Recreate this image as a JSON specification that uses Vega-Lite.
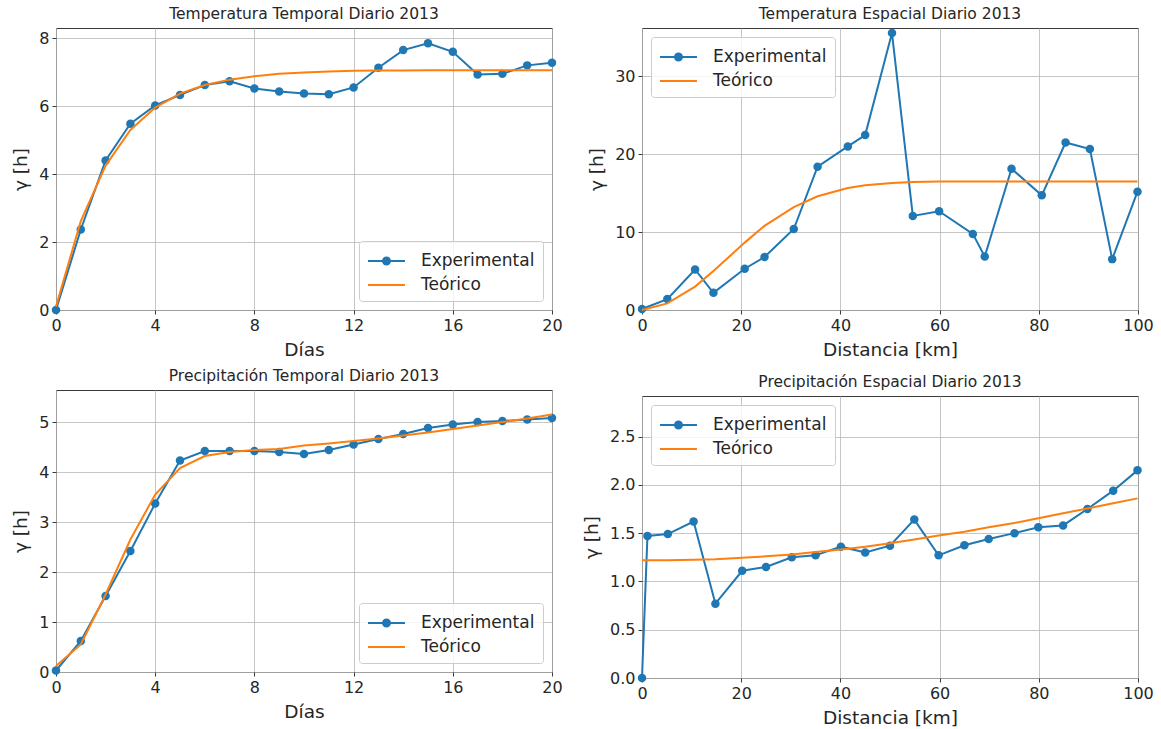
{
  "$schema": "https://vega.github.io/schema/vega-lite/v6.json",
  "padding": {"left": 11, "top": 6, "right": 4, "bottom": 4},
  "background": "white",
  "datasets": {
    "tt": [
      {"x": 0, "y": 0.0, "serie": "Experimental"},
      {"x": 1, "y": 2.37, "serie": "Experimental"},
      {"x": 2, "y": 4.4, "serie": "Experimental"},
      {"x": 3, "y": 5.48, "serie": "Experimental"},
      {"x": 4, "y": 6.02, "serie": "Experimental"},
      {"x": 5, "y": 6.33, "serie": "Experimental"},
      {"x": 6, "y": 6.62, "serie": "Experimental"},
      {"x": 7, "y": 6.73, "serie": "Experimental"},
      {"x": 8, "y": 6.52, "serie": "Experimental"},
      {"x": 9, "y": 6.43, "serie": "Experimental"},
      {"x": 10, "y": 6.37, "serie": "Experimental"},
      {"x": 11, "y": 6.35, "serie": "Experimental"},
      {"x": 12, "y": 6.55, "serie": "Experimental"},
      {"x": 13, "y": 7.13, "serie": "Experimental"},
      {"x": 14, "y": 7.65, "serie": "Experimental"},
      {"x": 15, "y": 7.85, "serie": "Experimental"},
      {"x": 16, "y": 7.6, "serie": "Experimental"},
      {"x": 17, "y": 6.93, "serie": "Experimental"},
      {"x": 18, "y": 6.95, "serie": "Experimental"},
      {"x": 19, "y": 7.2, "serie": "Experimental"},
      {"x": 20, "y": 7.28, "serie": "Experimental"},
      {"x": 0, "y": 0.1, "serie": "Teórico"},
      {"x": 1, "y": 2.62, "serie": "Teórico"},
      {"x": 2, "y": 4.25, "serie": "Teórico"},
      {"x": 3, "y": 5.3, "serie": "Teórico"},
      {"x": 4, "y": 5.96, "serie": "Teórico"},
      {"x": 5, "y": 6.37, "serie": "Teórico"},
      {"x": 6, "y": 6.62, "serie": "Teórico"},
      {"x": 7, "y": 6.78, "serie": "Teórico"},
      {"x": 8, "y": 6.88, "serie": "Teórico"},
      {"x": 9, "y": 6.95, "serie": "Teórico"},
      {"x": 10, "y": 6.99, "serie": "Teórico"},
      {"x": 11, "y": 7.02, "serie": "Teórico"},
      {"x": 12, "y": 7.04, "serie": "Teórico"},
      {"x": 13, "y": 7.05, "serie": "Teórico"},
      {"x": 14, "y": 7.05, "serie": "Teórico"},
      {"x": 15, "y": 7.06, "serie": "Teórico"},
      {"x": 16, "y": 7.06, "serie": "Teórico"},
      {"x": 17, "y": 7.06, "serie": "Teórico"},
      {"x": 18, "y": 7.06, "serie": "Teórico"},
      {"x": 19, "y": 7.06, "serie": "Teórico"},
      {"x": 20, "y": 7.06, "serie": "Teórico"}
    ],
    "te": [
      {"x": 0, "y": 0.13, "serie": "Experimental"},
      {"x": 5.1, "y": 1.4, "serie": "Experimental"},
      {"x": 10.7, "y": 5.2, "serie": "Experimental"},
      {"x": 14.4, "y": 2.2, "serie": "Experimental"},
      {"x": 20.7, "y": 5.3, "serie": "Experimental"},
      {"x": 24.7, "y": 6.8, "serie": "Experimental"},
      {"x": 30.6, "y": 10.4, "serie": "Experimental"},
      {"x": 35.4, "y": 18.4, "serie": "Experimental"},
      {"x": 41.5, "y": 21.0, "serie": "Experimental"},
      {"x": 45.0, "y": 22.45, "serie": "Experimental"},
      {"x": 50.4, "y": 35.55, "serie": "Experimental"},
      {"x": 54.6, "y": 12.08, "serie": "Experimental"},
      {"x": 59.9, "y": 12.68, "serie": "Experimental"},
      {"x": 66.7, "y": 9.77, "serie": "Experimental"},
      {"x": 69.1, "y": 6.87, "serie": "Experimental"},
      {"x": 74.5, "y": 18.14, "serie": "Experimental"},
      {"x": 80.6, "y": 14.72, "serie": "Experimental"},
      {"x": 85.4, "y": 21.5, "serie": "Experimental"},
      {"x": 90.3, "y": 20.66, "serie": "Experimental"},
      {"x": 94.8, "y": 6.53, "serie": "Experimental"},
      {"x": 99.9, "y": 15.19, "serie": "Experimental"},
      {"x": 0, "y": 0.0, "serie": "Teórico"},
      {"x": 5.1, "y": 0.85, "serie": "Teórico"},
      {"x": 10.7, "y": 3.0, "serie": "Teórico"},
      {"x": 14.4, "y": 5.0, "serie": "Teórico"},
      {"x": 20.7, "y": 8.65, "serie": "Teórico"},
      {"x": 24.7, "y": 10.8, "serie": "Teórico"},
      {"x": 30.6, "y": 13.2, "serie": "Teórico"},
      {"x": 35.4, "y": 14.6, "serie": "Teórico"},
      {"x": 41.5, "y": 15.65, "serie": "Teórico"},
      {"x": 45.0, "y": 16.0, "serie": "Teórico"},
      {"x": 50.4, "y": 16.3, "serie": "Teórico"},
      {"x": 54.6, "y": 16.42, "serie": "Teórico"},
      {"x": 59.9, "y": 16.48, "serie": "Teórico"},
      {"x": 66.7, "y": 16.5, "serie": "Teórico"},
      {"x": 69.1, "y": 16.5, "serie": "Teórico"},
      {"x": 74.5, "y": 16.5, "serie": "Teórico"},
      {"x": 80.6, "y": 16.5, "serie": "Teórico"},
      {"x": 85.4, "y": 16.5, "serie": "Teórico"},
      {"x": 90.3, "y": 16.5, "serie": "Teórico"},
      {"x": 94.8, "y": 16.5, "serie": "Teórico"},
      {"x": 99.9, "y": 16.5, "serie": "Teórico"}
    ],
    "pt": [
      {"x": 0, "y": 0.03, "serie": "Experimental"},
      {"x": 1, "y": 0.62, "serie": "Experimental"},
      {"x": 2, "y": 1.52, "serie": "Experimental"},
      {"x": 3, "y": 2.42, "serie": "Experimental"},
      {"x": 4, "y": 3.37, "serie": "Experimental"},
      {"x": 5, "y": 4.23, "serie": "Experimental"},
      {"x": 6, "y": 4.42, "serie": "Experimental"},
      {"x": 7, "y": 4.42, "serie": "Experimental"},
      {"x": 8, "y": 4.42, "serie": "Experimental"},
      {"x": 9, "y": 4.4, "serie": "Experimental"},
      {"x": 10, "y": 4.36, "serie": "Experimental"},
      {"x": 11, "y": 4.44, "serie": "Experimental"},
      {"x": 12, "y": 4.55, "serie": "Experimental"},
      {"x": 13, "y": 4.66, "serie": "Experimental"},
      {"x": 14, "y": 4.76, "serie": "Experimental"},
      {"x": 15, "y": 4.88, "serie": "Experimental"},
      {"x": 16, "y": 4.95, "serie": "Experimental"},
      {"x": 17, "y": 5.0, "serie": "Experimental"},
      {"x": 18, "y": 5.02, "serie": "Experimental"},
      {"x": 19, "y": 5.05, "serie": "Experimental"},
      {"x": 20, "y": 5.08, "serie": "Experimental"},
      {"x": 0, "y": 0.12, "serie": "Teórico"},
      {"x": 1, "y": 0.55, "serie": "Teórico"},
      {"x": 2, "y": 1.55, "serie": "Teórico"},
      {"x": 3, "y": 2.65, "serie": "Teórico"},
      {"x": 4, "y": 3.55, "serie": "Teórico"},
      {"x": 5, "y": 4.08, "serie": "Teórico"},
      {"x": 6, "y": 4.32, "serie": "Teórico"},
      {"x": 7, "y": 4.4, "serie": "Teórico"},
      {"x": 8, "y": 4.44, "serie": "Teórico"},
      {"x": 9, "y": 4.46, "serie": "Teórico"},
      {"x": 10, "y": 4.53, "serie": "Teórico"},
      {"x": 11, "y": 4.57, "serie": "Teórico"},
      {"x": 12, "y": 4.62, "serie": "Teórico"},
      {"x": 13, "y": 4.67, "serie": "Teórico"},
      {"x": 14, "y": 4.73, "serie": "Teórico"},
      {"x": 15, "y": 4.79, "serie": "Teórico"},
      {"x": 16, "y": 4.86, "serie": "Teórico"},
      {"x": 17, "y": 4.93, "serie": "Teórico"},
      {"x": 18, "y": 5.0, "serie": "Teórico"},
      {"x": 19, "y": 5.07, "serie": "Teórico"},
      {"x": 20, "y": 5.15, "serie": "Teórico"}
    ],
    "pe": [
      {"x": 0, "y": 0.0, "serie": "Experimental"},
      {"x": 1.1, "y": 1.47, "serie": "Experimental"},
      {"x": 5.2, "y": 1.49, "serie": "Experimental"},
      {"x": 10.4, "y": 1.62, "serie": "Experimental"},
      {"x": 14.8, "y": 0.77, "serie": "Experimental"},
      {"x": 20.2, "y": 1.11, "serie": "Experimental"},
      {"x": 25.0, "y": 1.15, "serie": "Experimental"},
      {"x": 30.2, "y": 1.25, "serie": "Experimental"},
      {"x": 35.0, "y": 1.27, "serie": "Experimental"},
      {"x": 40.1, "y": 1.36, "serie": "Experimental"},
      {"x": 45.0, "y": 1.3, "serie": "Experimental"},
      {"x": 50.0, "y": 1.37, "serie": "Experimental"},
      {"x": 54.9, "y": 1.64, "serie": "Experimental"},
      {"x": 59.8, "y": 1.27, "serie": "Experimental"},
      {"x": 65.0, "y": 1.375, "serie": "Experimental"},
      {"x": 69.9, "y": 1.44, "serie": "Experimental"},
      {"x": 75.1, "y": 1.5, "serie": "Experimental"},
      {"x": 79.9, "y": 1.56, "serie": "Experimental"},
      {"x": 84.9, "y": 1.58, "serie": "Experimental"},
      {"x": 89.8, "y": 1.75, "serie": "Experimental"},
      {"x": 95.0, "y": 1.94, "serie": "Experimental"},
      {"x": 99.9, "y": 2.15, "serie": "Experimental"},
      {"x": 0, "y": 1.22, "serie": "Teórico"},
      {"x": 5.2, "y": 1.22, "serie": "Teórico"},
      {"x": 10.4, "y": 1.225, "serie": "Teórico"},
      {"x": 14.8, "y": 1.23, "serie": "Teórico"},
      {"x": 20.2, "y": 1.245, "serie": "Teórico"},
      {"x": 25.0, "y": 1.26, "serie": "Teórico"},
      {"x": 30.2, "y": 1.28, "serie": "Teórico"},
      {"x": 35.0, "y": 1.305, "serie": "Teórico"},
      {"x": 40.1, "y": 1.33, "serie": "Teórico"},
      {"x": 45.0, "y": 1.36, "serie": "Teórico"},
      {"x": 50.0, "y": 1.395, "serie": "Teórico"},
      {"x": 54.9, "y": 1.435, "serie": "Teórico"},
      {"x": 59.8, "y": 1.475, "serie": "Teórico"},
      {"x": 65.0, "y": 1.515, "serie": "Teórico"},
      {"x": 69.9, "y": 1.56, "serie": "Teórico"},
      {"x": 75.1, "y": 1.605, "serie": "Teórico"},
      {"x": 79.9, "y": 1.655, "serie": "Teórico"},
      {"x": 84.9, "y": 1.705, "serie": "Teórico"},
      {"x": 89.8, "y": 1.755, "serie": "Teórico"},
      {"x": 95.0, "y": 1.81, "serie": "Teórico"},
      {"x": 99.9, "y": 1.86, "serie": "Teórico"}
    ]
  },
  "resolve": {"scale": {"color": "independent"}, "legend": {"color": "independent"}},
  "spacing": 19,
  "hconcat": [
    {
      "spacing": 9,
      "resolve": {"scale": {"color": "independent"}, "legend": {"color": "independent"}},
      "vconcat": [
        {
          "title": {"text": "Temperatura Temporal Diario 2013"},
          "width": 496, "height": 282,
          "data": {"name": "tt"},
          "encoding": {
            "x": {"field": "x", "type": "quantitative", "scale": {"domain": [0, 20], "nice": false}, "axis": {"title": "Días", "values": [0, 4, 8, 12, 16, 20]}},
            "y": {"field": "y", "type": "quantitative", "scale": {"domain": [0, 8.3], "nice": false}, "axis": {"title": "γ [h]", "values": [0, 2, 4, 6, 8]}},
            "color": {"field": "serie", "type": "nominal", "scale": {"domain": ["Experimental", "Teórico"], "range": ["#1f77b4", "#ff7f0e"]},
              "legend": {"title": null, "orient": "bottom-right", "offset": 9,
                "encode": {"symbols": {"update": {
                  "shape": {"signal": "datum.value === 'Experimental' ? 'M-1,0L2.36,0M1,0A0.32 0.32 0 1 1 0.36 0A0.32 0.32 0 1 1 1 0Z' : 'M-1,0L2.36,0'"},
                  "fill": {"signal": "datum.value === 'Experimental' ? '#1f77b4' : 'transparent'"}}}}}}
          },
          "layer": [
            {"transform": [{"filter": "datum.serie === 'Experimental'"}], "mark": {"type": "line", "strokeWidth": 2}},
            {"transform": [{"filter": "datum.serie === 'Experimental'"}], "mark": {"type": "point", "filled": true, "size": 72, "opacity": 1}, "encoding": {"color": {"value": "#1f77b4"}}},
            {"transform": [{"filter": "datum.serie === 'Teórico'"}], "mark": {"type": "line", "strokeWidth": 2}}
          ]
        },
        {
          "title": {"text": "Precipitación Temporal Diario 2013"},
          "width": 496, "height": 282,
          "data": {"name": "pt"},
          "encoding": {
            "x": {"field": "x", "type": "quantitative", "scale": {"domain": [0, 20], "nice": false}, "axis": {"title": "Días", "values": [0, 4, 8, 12, 16, 20]}},
            "y": {"field": "y", "type": "quantitative", "scale": {"domain": [0, 5.64], "nice": false}, "axis": {"title": "γ [h]", "values": [0, 1, 2, 3, 4, 5]}},
            "color": {"field": "serie", "type": "nominal", "scale": {"domain": ["Experimental", "Teórico"], "range": ["#1f77b4", "#ff7f0e"]},
              "legend": {"title": null, "orient": "bottom-right", "offset": 9,
                "encode": {"symbols": {"update": {
                  "shape": {"signal": "datum.value === 'Experimental' ? 'M-1,0L2.36,0M1,0A0.32 0.32 0 1 1 0.36 0A0.32 0.32 0 1 1 1 0Z' : 'M-1,0L2.36,0'"},
                  "fill": {"signal": "datum.value === 'Experimental' ? '#1f77b4' : 'transparent'"}}}}}}
          },
          "layer": [
            {"transform": [{"filter": "datum.serie === 'Experimental'"}], "mark": {"type": "line", "strokeWidth": 2}},
            {"transform": [{"filter": "datum.serie === 'Experimental'"}], "mark": {"type": "point", "filled": true, "size": 72, "opacity": 1}, "encoding": {"color": {"value": "#1f77b4"}}},
            {"transform": [{"filter": "datum.serie === 'Teórico'"}], "mark": {"type": "line", "strokeWidth": 2}}
          ]
        }
      ]
    },
    {
      "spacing": 15,
      "resolve": {"scale": {"color": "independent"}, "legend": {"color": "independent"}},
      "vconcat": [
        {
          "title": {"text": "Temperatura Espacial Diario 2013"},
          "width": 496, "height": 282,
          "data": {"name": "te"},
          "encoding": {
            "x": {"field": "x", "type": "quantitative", "scale": {"domain": [0, 100], "nice": false}, "axis": {"title": "Distancia [km]", "values": [0, 20, 40, 60, 80, 100]}},
            "y": {"field": "y", "type": "quantitative", "scale": {"domain": [0, 36.2], "nice": false}, "axis": {"title": "γ [h]", "values": [0, 10, 20, 30]}},
            "color": {"field": "serie", "type": "nominal", "scale": {"domain": ["Experimental", "Teórico"], "range": ["#1f77b4", "#ff7f0e"]},
              "legend": {"title": null, "orient": "top-left", "offset": 9,
                "encode": {"symbols": {"update": {
                  "shape": {"signal": "datum.value === 'Experimental' ? 'M-1,0L2.36,0M1,0A0.32 0.32 0 1 1 0.36 0A0.32 0.32 0 1 1 1 0Z' : 'M-1,0L2.36,0'"},
                  "fill": {"signal": "datum.value === 'Experimental' ? '#1f77b4' : 'transparent'"}}}}}}
          },
          "layer": [
            {"transform": [{"filter": "datum.serie === 'Experimental'"}], "mark": {"type": "line", "strokeWidth": 2}},
            {"transform": [{"filter": "datum.serie === 'Experimental'"}], "mark": {"type": "point", "filled": true, "size": 72, "opacity": 1}, "encoding": {"color": {"value": "#1f77b4"}}},
            {"transform": [{"filter": "datum.serie === 'Teórico'"}], "mark": {"type": "line", "strokeWidth": 2}}
          ]
        },
        {
          "title": {"text": "Precipitación Espacial Diario 2013"},
          "width": 496, "height": 282,
          "data": {"name": "pe"},
          "encoding": {
            "x": {"field": "x", "type": "quantitative", "scale": {"domain": [0, 100], "nice": false}, "axis": {"title": "Distancia [km]", "values": [0, 20, 40, 60, 80, 100]}},
            "y": {"field": "y", "type": "quantitative", "scale": {"domain": [0, 2.92], "nice": false}, "axis": {"title": "γ [h]", "values": [0, 0.5, 1, 1.5, 2, 2.5], "format": ".1f"}},
            "color": {"field": "serie", "type": "nominal", "scale": {"domain": ["Experimental", "Teórico"], "range": ["#1f77b4", "#ff7f0e"]},
              "legend": {"title": null, "orient": "top-left", "offset": 9,
                "encode": {"symbols": {"update": {
                  "shape": {"signal": "datum.value === 'Experimental' ? 'M-1,0L2.36,0M1,0A0.32 0.32 0 1 1 0.36 0A0.32 0.32 0 1 1 1 0Z' : 'M-1,0L2.36,0'"},
                  "fill": {"signal": "datum.value === 'Experimental' ? '#1f77b4' : 'transparent'"}}}}}}
          },
          "layer": [
            {"transform": [{"filter": "datum.serie === 'Experimental'"}], "mark": {"type": "line", "strokeWidth": 2}},
            {"transform": [{"filter": "datum.serie === 'Experimental'"}], "mark": {"type": "point", "filled": true, "size": 72, "opacity": 1}, "encoding": {"color": {"value": "#1f77b4"}}},
            {"transform": [{"filter": "datum.serie === 'Teórico'"}], "mark": {"type": "line", "strokeWidth": 2}}
          ]
        }
      ]
    }
  ],
  "config": {
    "font": "DejaVu Sans",
    "view": {"stroke": "#3a3a3a", "strokeWidth": 1},
    "axis": {
      "labelFont": "DejaVu Sans", "labelFontSize": 16, "labelColor": "#262626",
      "titleFont": "DejaVu Sans", "titleFontSize": 18.5, "titleFontWeight": "normal", "titleColor": "#262626",
      "domain": false, "tickColor": "#3a3a3a", "tickSize": 4, "tickWidth": 1, "labelPadding": 3,
      "gridColor": "#b8b8b8", "gridWidth": 0.8, "titlePadding": 7,
      "labelFlush": false, "labelOverlap": false
    },
    "axisY": {"titlePadding": 8},
    "title": {"font": "DejaVu Sans", "fontSize": 15.5, "fontWeight": "normal", "color": "#262626", "offset": 6, "anchor": "middle"},
    "legend": {
      "labelFont": "DejaVu Sans", "labelFontSize": 17, "labelColor": "#262626",
      "symbolSize": 484, "symbolStrokeWidth": 2, "labelOffset": 30,
      "padding": 8, "rowPadding": 4,
      "strokeColor": "#cccccc", "fillColor": "rgba(255,255,255,0.8)", "cornerRadius": 3
    }
  }
}
